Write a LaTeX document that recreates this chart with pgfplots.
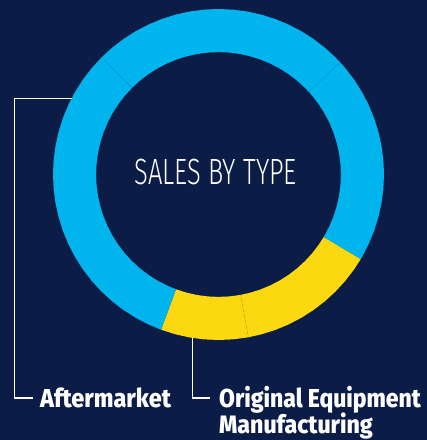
\documentclass[border=0pt]{standalone}
\usepackage{pgfplots}
\pgfplotsset{compat=1.18}
\usepackage{graphicx}
\usepackage{fontspec}
\setmainfont{Fira Sans}
\newfontfamily\firalight{Fira Sans}[UprightFont=* Light]
\newfontfamily\firaxb{Fira Sans}[UprightFont=* ExtraBold]
\definecolor{bg}{RGB}{11,28,70}
\definecolor{cyanc}{RGB}{0,181,238}
\definecolor{cyand}{RGB}{0,150,205}
\definecolor{yellc}{RGB}{251,216,16}
\definecolor{yelld}{RGB}{215,180,10}
\newcommand{\capbox}[3]{\resizebox{#1}{#2}{\raisebox{0pt}[\fontcharht\font`A][0pt]{#3}}}
\begin{document}
% Segment shares (degrees of 360): 92.4, 73.4, 48.8, 30.7, 114.7
\begin{tikzpicture}
\begin{axis}[
  x=1pt, y=1pt,
  xmin=-218.5, xmax=208.5, ymin=-265.5, ymax=174.5,
  hide axis, clip=false,
  scale only axis,
]
% background
\addplot[fill=bg, draw=none] coordinates {(-218.5,-265.5) (208.5,-265.5) (208.5,174.5) (-218.5,174.5)};
% Segment A (cyan) 42.6 -> 135
\addplot[fill=cyanc, draw=none, data cs=polar] coordinates {
(42.6,165.5) (45,165.5) (50,165.5) (55,165.5) (60,165.5) (65,165.5) (70,165.5) (75,165.5) (80,165.5) (85,165.5) (90,165.5) (95,165.5) (100,165.5) (105,165.5) (110,165.5) (115,165.5) (120,165.5) (125,165.5) (130,165.5) (135,165.5)
(135,122.4) (130,122.4) (125,122.4) (120,122.4) (115,122.4) (110,122.4) (105,122.4) (100,122.4) (95,122.4) (90,122.4) (85,122.4) (80,122.4) (75,122.4) (70,122.4) (65,122.4) (60,122.4) (55,122.4) (50,122.4) (45,122.4) (42.6,122.4)};
% Segment B (cyan) -30.8 -> 42.6
\addplot[fill=cyanc, draw=none, data cs=polar] coordinates {
(-30.8,165.5) (-30,165.5) (-25,165.5) (-20,165.5) (-15,165.5) (-10,165.5) (-5,165.5) (0,165.5) (5,165.5) (10,165.5) (15,165.5) (20,165.5) (25,165.5) (30,165.5) (35,165.5) (40,165.5) (42.6,165.5)
(42.6,122.4) (40,122.4) (35,122.4) (30,122.4) (25,122.4) (20,122.4) (15,122.4) (10,122.4) (5,122.4) (0,122.4) (-5,122.4) (-10,122.4) (-15,122.4) (-20,122.4) (-25,122.4) (-30,122.4) (-30.8,122.4)};
% Segment C (yellow) -79.6 -> -30.8
\addplot[fill=yellc, draw=none, data cs=polar] coordinates {
(-79.6,165.5) (-75,165.5) (-70,165.5) (-65,165.5) (-60,165.5) (-55,165.5) (-50,165.5) (-45,165.5) (-40,165.5) (-35,165.5) (-30.8,165.5)
(-30.8,122.4) (-35,122.4) (-40,122.4) (-45,122.4) (-50,122.4) (-55,122.4) (-60,122.4) (-65,122.4) (-70,122.4) (-75,122.4) (-79.6,122.4)};
% Segment D (yellow) -110.3 -> -79.6
\addplot[fill=yellc, draw=none, data cs=polar] coordinates {
(-110.3,165.5) (-105,165.5) (-100,165.5) (-95,165.5) (-90,165.5) (-85,165.5) (-80,165.5) (-79.6,165.5)
(-79.6,122.4) (-80,122.4) (-85,122.4) (-90,122.4) (-95,122.4) (-100,122.4) (-105,122.4) (-110.3,122.4)};
% Segment E (cyan) 135 -> 249.7
\addplot[fill=cyanc, draw=none, data cs=polar] coordinates {
(135,165.5) (140,165.5) (145,165.5) (150,165.5) (155,165.5) (160,165.5) (165,165.5) (170,165.5) (175,165.5) (180,165.5) (185,165.5) (190,165.5) (195,165.5) (200,165.5) (205,165.5) (210,165.5) (215,165.5) (220,165.5) (225,165.5) (230,165.5) (235,165.5) (240,165.5) (245,165.5) (249.7,165.5)
(249.7,122.4) (245,122.4) (240,122.4) (235,122.4) (230,122.4) (225,122.4) (220,122.4) (215,122.4) (210,122.4) (205,122.4) (200,122.4) (195,122.4) (190,122.4) (185,122.4) (180,122.4) (175,122.4) (170,122.4) (165,122.4) (160,122.4) (155,122.4) (150,122.4) (145,122.4) (140,122.4) (135,122.4)};
% faint seams between same-coloured segments
\addplot[draw=cyand, line width=0.4pt, data cs=polar] coordinates {(135,122.4) (135,165.5)};
\addplot[draw=cyand, line width=0.4pt, data cs=polar] coordinates {(42.6,122.4) (42.6,165.5)};
\addplot[draw=yelld, line width=0.4pt, data cs=polar] coordinates {(-79.6,122.4) (-79.6,165.5)};
% leader lines
\addplot[draw=white, line width=1.3pt] coordinates {(-146.8,76.2) (-204.2,76.2) (-204.2,-223.5) (-185.2,-223.5)};
\addplot[draw=white, line width=1.3pt] coordinates {(-26.2,-163.0) (-26.2,-223.5) (-8.5,-223.5)};
% texts
\node[anchor=south west, inner sep=0pt, text=white] at (axis cs:-84.2,-9.8)
  {\firalight\capbox{162.4pt}{25pt}{SALES BY TYPE}};
\node[anchor=south west, inner sep=0pt, text=white] at (axis cs:-178.5,-232.8)
  {\firaxb\capbox{130.7pt}{18pt}{Aftermarket}};
\node[anchor=south west, inner sep=0pt, text=white] at (axis cs:0.5,-232.8)
  {\firaxb\capbox{201.7pt}{18pt}{Original Equipment}};
\node[anchor=south west, inner sep=0pt, text=white] at (axis cs:0.5,-259.3)
  {\firaxb\capbox{153.7pt}{17.5pt}{Manufacturing}};
\end{axis}
\end{tikzpicture}
\end{document}
